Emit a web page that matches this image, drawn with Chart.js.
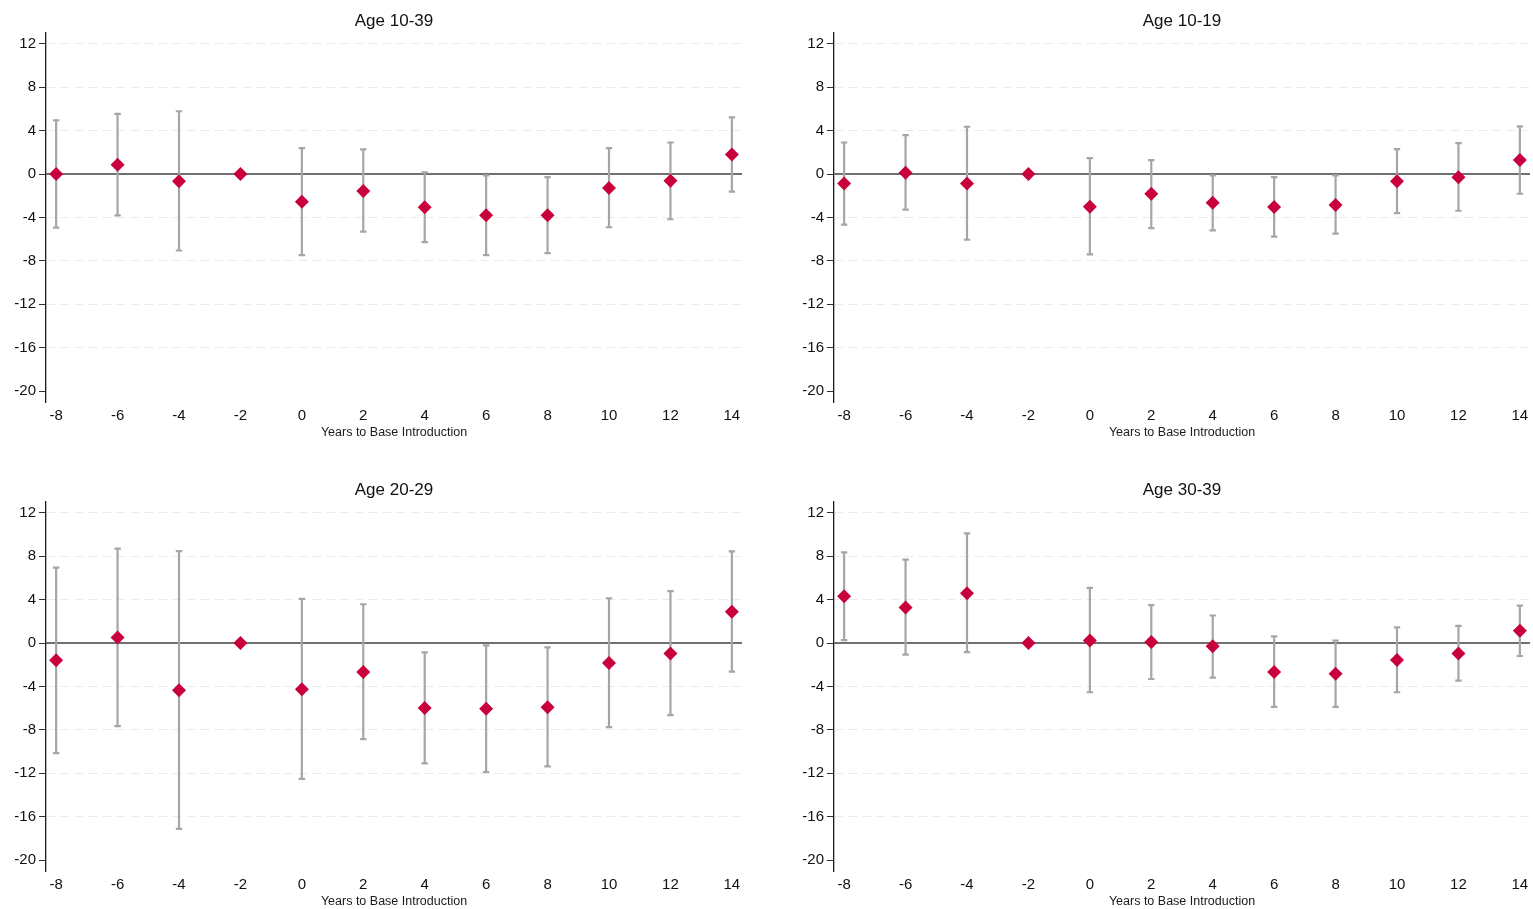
<!DOCTYPE html>
<html>
<head>
<meta charset="utf-8">
<script src="https://cdn.jsdelivr.net/npm/chart.js@4/dist/chart.umd.min.js"></script>
<style>
  html, body { margin: 0; padding: 0; background: #ffffff; }
  body { width: 1533px; height: 909px; overflow: hidden; position: relative; }
  .panel { position: absolute; width: 760px; height: 445px; }
  canvas { display: block; }
</style>
</head>
<body>
<div class="panel" style="left:0px;top:0px"><canvas id="c0" width="760" height="445"></canvas></div>
<div class="panel" style="left:788px;top:0px"><canvas id="c1" width="760" height="445"></canvas></div>
<div class="panel" style="left:0px;top:469px"><canvas id="c2" width="760" height="445"></canvas></div>
<div class="panel" style="left:788px;top:469px"><canvas id="c3" width="760" height="445"></canvas></div>
<script>
// ---- Data ----
const years = [-8, -6, -4, -2, 0, 2, 4, 6, 8, 10, 12, 14];
const xTickValues = [-8, -6, -4, -2, 0, 2, 4, 6, 8, 10, 12, 14];
const yTickValues = [12, 8, 4, 0, -4, -8, -12, -16, -20];
const panelTitles = ["Age 10-39", "Age 10-19", "Age 20-29", "Age 30-39"];
const xAxisTitle = "Years to Base Introduction";

const est_10_39 = [0.0, 0.86, -0.67, 0, -2.54, -1.56, -3.06, -3.80, -3.80, -1.29, -0.61, 1.81];
const hi_10_39  = [4.96, 5.54, 5.79, null, 2.39, 2.27, 0.15, -0.12, -0.28, 2.39, 2.91, 5.23];
const lo_10_39  = [-4.93, -3.80, -7.04, null, -7.47, -5.30, -6.27, -7.47, -7.28, -4.90, -4.16, -1.62];

const est_10_19 = [-0.86, 0.12, -0.86, 0, -3.00, -1.81, -2.64, -3.04, -2.85, -0.67, -0.28, 1.29];
const hi_10_19  = [2.91, 3.59, 4.36, null, 1.47, 1.29, -0.12, -0.28, -0.12, 2.30, 2.85, 4.39];
const lo_10_19  = [-4.66, -3.28, -6.05, null, -7.40, -4.97, -5.19, -5.77, -5.49, -3.59, -3.38, -1.81];

const est_20_29 = [-1.59, 0.52, -4.35, 0, -4.26, -2.66, -5.97, -6.06, -5.91, -1.84, -0.95, 2.88];
const hi_20_29  = [6.95, 8.70, 8.48, null, 4.07, 3.58, -0.86, -0.21, -0.40, 4.13, 4.78, 8.45];
const lo_20_29  = [-10.13, -7.65, -17.12, null, -12.52, -8.85, -11.08, -11.88, -11.36, -7.75, -6.64, -2.63];

const est_30_39 = [4.32, 3.28, 4.59, 0, 0.24, 0.09, -0.28, -2.66, -2.82, -1.56, -0.95, 1.13];
const hi_30_39  = [8.36, 7.69, 10.10, null, 5.08, 3.49, 2.54, 0.61, 0.24, 1.44, 1.59, 3.46];
const lo_30_39  = [0.28, -1.07, -0.83, null, -4.53, -3.31, -3.18, -5.88, -5.88, -4.53, -3.46, -1.19];

const panels = [
  { title: panelTitles[0], est: est_10_39, lo: lo_10_39, hi: hi_10_39 },
  { title: panelTitles[1], est: est_10_19, lo: lo_10_19, hi: hi_10_19 },
  { title: panelTitles[2], est: est_20_29, lo: lo_20_29, hi: hi_20_29 },
  { title: panelTitles[3], est: est_30_39, lo: lo_30_39, hi: hi_30_39 }
];

// ---- Styles ----
const FONT = '"Liberation Sans", Arial, sans-serif';
const MARKER = '#C8003C';
const BAR = '#A6A6A6';
const ZERO = '#707070';

// Error bars + zero line, drawn through the chart's own scales
const errorBarPlugin = {
  id: 'errorBars',
  beforeDatasetsDraw(chart) {
    const { ctx, chartArea, scales } = chart;
    const xs = scales.x, ys = scales.y;
    const ds = chart.data.datasets[0];
    ctx.save();
    const y0 = ys.getPixelForValue(0);
    ctx.strokeStyle = ZERO;
    ctx.lineWidth = 2;
    ctx.beginPath();
    ctx.moveTo(chartArea.left, y0);
    ctx.lineTo(chartArea.right, y0);
    ctx.stroke();
    ctx.strokeStyle = BAR;
    ctx.lineWidth = 2.2;
    const cap = 3.2;
    ds.years.forEach((yr, i) => {
      const l = ds.lo[i], h = ds.hi[i];
      if (l === null || h === null) return;
      const px = xs.getPixelForValue(yr);
      const pl = ys.getPixelForValue(l);
      const ph = ys.getPixelForValue(h);
      ctx.beginPath();
      ctx.moveTo(px, pl); ctx.lineTo(px, ph);
      ctx.moveTo(px - cap, pl); ctx.lineTo(px + cap, pl);
      ctx.moveTo(px - cap, ph); ctx.lineTo(px + cap, ph);
      ctx.stroke();
    });
    ctx.restore();
  },
  afterDraw(chart) {
    const { ctx, chartArea } = chart;
    const ds = chart.data.datasets[0];
    const cx = (chartArea.left + chartArea.right) / 2;
    ctx.save();
    ctx.fillStyle = '#111111';
    ctx.textAlign = 'center';
    ctx.textBaseline = 'middle';
    ctx.font = '17px ' + FONT;
    ctx.fillText(ds.panelTitle, cx, 21);
    ctx.font = '12.5px ' + FONT;
    ctx.fillStyle = '#1a1a1a';
    ctx.fillText(xAxisTitle, cx, 433);
    ctx.restore();
  }
};

panels.forEach((p, k) => {
  const canvas = document.getElementById('c' + k);
  new Chart(canvas, {
    type: 'scatter',
    data: {
      datasets: [{
        label: p.title,
        panelTitle: p.title,
        years: years,
        lo: p.lo,
        hi: p.hi,
        data: years.map((yr, i) => ({ x: yr, y: p.est[i] })),
        pointStyle: 'rectRot',
        pointRadius: 7,
        pointHoverRadius: 7,
        backgroundColor: MARKER,
        borderColor: MARKER,
        borderWidth: 0
      }]
    },
    options: {
      responsive: false,
      animation: false,
      devicePixelRatio: 1,
      events: [],
      layout: { padding: { top: 33, right: 18, left: 0, bottom: 0 } },
      plugins: {
        legend: { display: false },
        title: { display: false },
        tooltip: { enabled: false }
      },
      scales: {
        x: {
          type: 'linear',
          min: -8.33,
          max: 14.33,
          afterBuildTicks: (scale) => { scale.ticks = xTickValues.map(v => ({ value: v })); },
          afterFit: (scale) => { scale.height = 43; },
          grid: { display: false, drawTicks: false },
          border: { display: false },
          ticks: {
            padding: 5,
            color: '#111111',
            font: { family: FONT, size: 15 },
            maxRotation: 0,
            autoSkip: false,
            callback: (v) => String(v)
          }
        },
        y: {
          type: 'linear',
          min: -21,
          max: 13,
          afterBuildTicks: (scale) => { scale.ticks = yTickValues.map(v => ({ value: v })); },
          afterFit: (scale) => { scale.width = 46; },
          grid: {
            display: true,
            drawOnChartArea: true,
            drawTicks: true,
            tickLength: 7,
            tickColor: '#333333',
            tickWidth: 1,
            tickBorderDash: [],
            lineWidth: 1,
            color: (c) => (c.tick && (c.tick.value === 0 || c.tick.value === -20)) ? 'rgba(0,0,0,0)' : '#EBEBEB'
          },
          border: { display: true, color: '#1a1a1a', width: 1.3, dash: [9, 5] },
          ticks: {
            padding: 3,
            color: '#111111',
            font: { family: FONT, size: 15 },
            autoSkip: false,
            callback: (v) => String(v)
          }
        }
      }
    },
    plugins: [errorBarPlugin]
  });
});
</script>
</body>
</html>
